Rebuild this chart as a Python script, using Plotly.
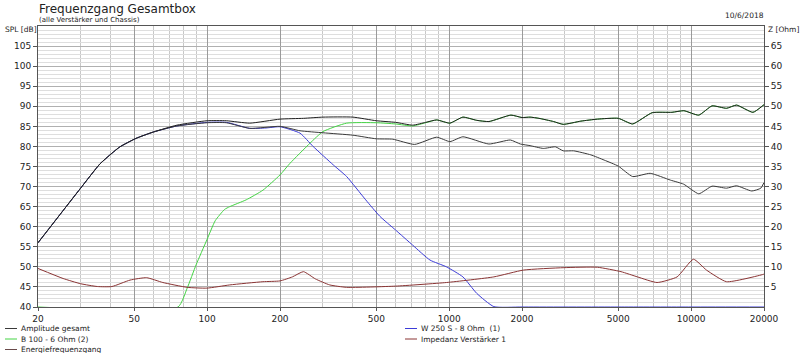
import numpy as np
import plotly.graph_objects as go

# ---------------- data ----------------
amp_f = [20, 24.2, 30, 36, 40.4, 43.6, 50.8, 60, 75, 100, 120, 150, 200, 250, 301, 400, 500, 600,
         707, 800, 888, 1007, 1140, 1300, 1460, 1800, 2000, 2160, 2350, 2700, 2960, 3500, 4100,
         5000, 5730, 6900, 8330, 9330, 10750, 12200, 14000, 15400, 18000, 20000]
amp_db = [56.0, 62.4, 69.6, 75.6, 78.3, 79.9, 82.0, 83.6, 85.3, 86.4, 86.4, 85.8, 86.8, 87.0,
          87.3, 87.3, 86.4, 86.0, 85.3, 86.0, 86.6, 85.8, 87.3, 86.5, 86.2, 87.8, 87.2, 87.3, 87.0,
          86.2, 85.5, 86.3, 86.8, 87.0, 85.6, 88.4, 88.5, 88.9, 87.8, 90.1, 89.5, 90.3, 88.5, 90.4]

b100_f = [20, 75.8, 82.7, 90, 99.7, 108, 118, 124, 145, 170, 200, 220, 266, 301, 377, 500, 600,
          707, 800, 888, 1007, 1140, 1300, 1460, 1800, 2000, 2160, 2350, 2700, 2960, 3500, 4100,
          5000, 5730, 6900, 8330, 9330, 10750, 12200, 14000, 15400, 18000, 20000]
b100_db = [40.0, 40.0, 44.7, 50.5, 56.7, 61.5, 64.3, 65.0, 66.7, 69.1, 72.9, 75.8, 80.8, 83.7, 85.8,
           85.9, 85.6, 85.1, 85.9, 86.6, 85.8, 87.3, 86.5, 86.2, 87.8, 87.2, 87.3, 87.0, 86.2, 85.5,
           86.3, 86.8, 87.0, 85.6, 88.4, 88.5, 88.9, 87.8, 90.1, 89.5, 90.3, 88.5, 90.4]

efg_f = [20, 24.2, 30, 36, 40.4, 43.6, 50.8, 60, 75, 100, 120, 150, 200, 242, 301, 400, 500, 585,
         720, 888, 1007, 1140, 1460, 1790, 1970, 2160, 2450, 2750, 2960, 3270, 3850, 4370, 5000,
         5730, 6770, 8220, 9310, 10750, 12200, 14000, 15400, 17800, 19400, 20000]
efg_db = [56.0, 62.4, 69.6, 75.6, 78.3, 79.9, 82.0, 83.6, 85.1, 85.9, 85.9, 84.5, 85.0, 83.9, 83.4,
          82.8, 81.9, 81.8, 80.5, 82.3, 81.2, 82.4, 80.6, 81.6, 80.6, 80.2, 79.5, 79.9, 78.9, 78.9,
          77.9, 76.6, 75.1, 72.5, 73.3, 71.6, 70.6, 68.2, 70.1, 69.6, 70.2, 68.9, 69.6, 71.0]

w250_f = [20, 24.2, 30, 36, 40.4, 43.6, 50.8, 60, 75, 100, 120, 150, 175, 200, 242, 274, 332, 377,
          452, 517, 600, 707, 833, 975, 1140, 1300, 1530, 2000, 5000, 10000, 20000]
w250_db = [56.0, 62.4, 69.6, 75.6, 78.3, 79.9, 82.0, 83.6, 85.1, 86.0, 86.0, 84.5, 84.6, 84.9,
           83.3, 80.0, 75.4, 72.5, 66.7, 62.6, 59.2, 55.4, 51.7, 50.0, 47.5, 43.4, 40.1, 40.0,
           40.0, 40.0, 40.0]

imp_f = [20, 25.4, 30, 35.2, 40.4, 48, 56.2, 65.6, 82.7, 99.7, 124, 170, 200, 225, 250, 280, 321,
         377, 600, 975, 1530, 2030, 2980, 4100, 5130, 6000, 7230, 8750, 10220, 11570, 14000,
         19800, 20000]
imp_ohm = [9.6, 7.1, 5.8, 5.1, 5.1, 6.7, 7.3, 6.1, 4.9, 4.7, 5.5, 6.3, 6.5, 7.5, 8.8, 7.0, 5.5, 4.9,
           5.2, 6.1, 7.5, 9.2, 9.8, 9.9, 8.8, 7.5, 6.1, 7.5, 11.9, 9.2, 6.3, 8.1, 8.2]

x_ticks = [20, 50, 100, 200, 500, 1000, 2000, 5000, 10000, 20000]
x_minor = [30, 40, 60, 70, 80, 90, 300, 400, 600, 700, 800, 900, 3000, 4000, 6000, 7000, 8000,
           9000]
spl_ticks = list(range(40, 106, 5))
z_ticks = list(range(5, 66, 5))

# legend entries: (name, colour, column, row)
legend_items = [
    ("Amplitude gesamt", "#3a3a3a", 0, 0),
    ("B 100 - 6 Ohm (2)", "#44d444", 0, 1),
    ("Energiefrequenzgang", "#6a4a4a", 0, 2),
    ("W 250 S - 8 Ohm  (1)", "#3c3cd8", 1, 0),
    ("Impedanz Verstärker 1", "#8a3434", 1, 1),
]

# ---------------- figure ----------------
FONT = "DejaVu Sans"
L, R, T, B = 38, 36, 26, 46
W, H = 800, 353
PW, PH = W - L - R, H - T - B

def px(xp):
    return (xp - L) / PW

def py(yp):
    return (H - B - yp) / PH

fig = go.Figure()

def add(name, f, v, color, yaxis="y", width=1.0, shape="spline"):
    fig.add_trace(go.Scatter(x=f, y=v, mode="lines", name=name, yaxis=yaxis, showlegend=False,
                             line=dict(color=color, width=width, shape=shape, smoothing=0.5)))

add("B 100 - 6 Ohm (2)", b100_f, b100_db, "#44d444")
add("Impedanz Verstärker 1", imp_f, imp_ohm, "#8a3434", yaxis="y2")
add("W 250 S - 8 Ohm  (1)", w250_f, w250_db, "#3c3cd8")
add("Energiefrequenzgang", efg_f, efg_db, "#3a3a3a")
add("Amplitude gesamt", amp_f, amp_db, "#202020")

axis_font = dict(family=FONT, size=9, color="#222")
fig.update_layout(
    width=W, height=H,
    margin=dict(l=L, r=R, t=T, b=B, autoexpand=False),
    paper_bgcolor="white", plot_bgcolor="white",
    font=dict(family=FONT, size=9, color="#222"),
    showlegend=False,
    xaxis=dict(type="log", range=[np.log10(20), np.log10(20000)], tickvals=x_ticks,
               ticktext=[str(t) for t in x_ticks], showgrid=True, gridcolor="#9a9a9a",
               gridwidth=1, ticks="outside", ticklen=3, tickcolor="#555", tickfont=axis_font,
               showline=True, linecolor="#555", mirror=True, zeroline=False,
               minor=dict(tickvals=x_minor, showgrid=True, gridcolor="#c8c8c8", ticks="")),
    yaxis=dict(range=[40, 110], tickvals=spl_ticks, showgrid=True, gridcolor="#b0b0b0",
               ticks="outside", ticklen=4, tickcolor="#555", tickfont=axis_font,
               showline=True, linecolor="#555", mirror=True, zeroline=False,
               minor=dict(dtick=1, tick0=40, showgrid=True, gridcolor="#dedede", ticks="")),
    yaxis2=dict(range=[0, 70], overlaying="y", side="right", tickvals=z_ticks,
                showgrid=False, ticks="outside", ticklen=4, tickcolor="#555", tickfont=axis_font,
                showline=True, linecolor="#555", zeroline=False),
)

def text(t, x, y, size, anchor="left"):
    fig.add_annotation(text=t, xref="paper", yref="paper", x=px(x), y=py(y), xanchor=anchor,
                       yanchor="middle", showarrow=False,
                       font=dict(family=FONT, size=size, color="#222"))

text("Frequenzgang Gesamtbox", 37, 9, 12)
text("(alle Verstärker und Chassis)", 37, 19.5, 7)
text("10/6/2018", 766, 16, 7.5, anchor="right")
text("SPL [dB]", 3, 30, 7.5)
text("Z [Ohm]", 766, 30, 7.5)

# manual legend (two columns, three rows) below the plot
for name, color, col, row in legend_items:
    x0 = 5 + col * 400
    yc = 328.5 + row * 10.5
    fig.add_shape(type="line", xref="paper", yref="paper", x0=px(x0), x1=px(x0 + 12),
                  y0=py(yc), y1=py(yc), line=dict(color=color, width=1))
    text(name, x0 + 14, yc, 7.5)

fig.write_html("out.html")
